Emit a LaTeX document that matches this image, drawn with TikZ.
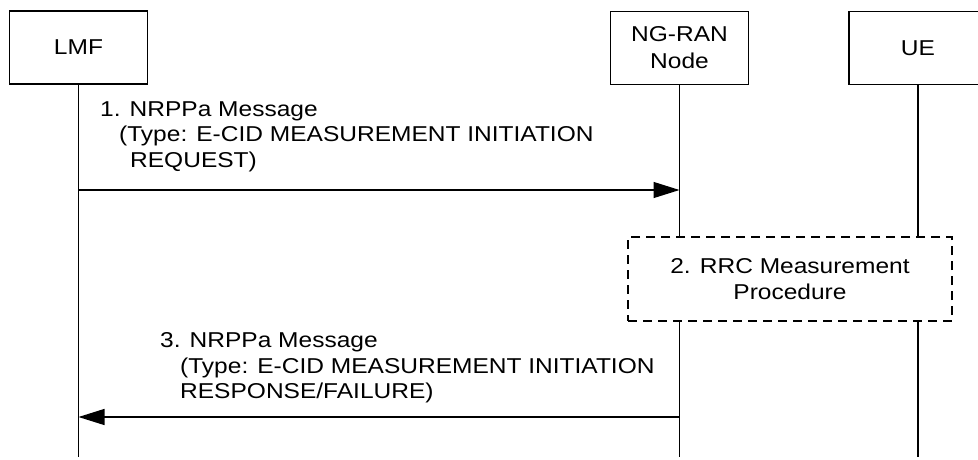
\documentclass[tikz,border=0pt]{standalone}
\usepackage{fontspec}
\setmainfont{Liberation Sans}[FakeStretch=1.14]
\usetikzlibrary{arrows.meta}
\begin{document}
\begin{tikzpicture}[x=1pt,y=-1pt,
  font=\fontsize{21.5}{26}\selectfont,
  lane/.style={draw, line width=1.3pt, minimum width=138pt, minimum height=73pt, inner sep=0pt, align=center},
  life/.style={line width=1.3pt},
  msg/.style={line width=1.3pt, -{Triangle[length=26pt,width=16pt]}},
  lbl/.style={anchor=base west, inner sep=0pt},
  proc/.style={draw, dash pattern=on 9pt off 6pt, line width=1.3pt, minimum width=324pt, minimum height=84pt, align=center, inner sep=0pt}
]
\useasboundingbox (0,0) rectangle (978,459);
\fill[white] (0,0) rectangle (978,459);
% lane heads
\node[lane] (lmf) at (78.5,47.5) {LMF};
\node[lane, font=\fontsize{21.5}{27}\selectfont] (ran) at (679.5,48) {NG-RAN\\Node};
\node[lane] (ue) at (918,48) {UE};
% procedure box
\node[proc] (proc) at (790,279) {2. RRC Measurement\\Procedure};
% lifeline ends
\coordinate (lmfend) at (78.5,457);
\coordinate (ranend) at (679.5,457);
\coordinate (ueend) at (918,457);
\coordinate (rantop) at (679.5,237);
\coordinate (ranbot) at (679.5,321);
\coordinate (uetop) at (918,237);
\coordinate (uebot) at (918,321);
\draw[life] (lmf.south) -- (lmfend);
\draw[life] (ran.south) -- (rantop);
\draw[life] (ranbot) -- (ranend);
\draw[life] (ue.south) -- (uetop);
\draw[life] (uebot) -- (ueend);
% message 1
\coordinate (m1s) at (78.5,190);
\coordinate (m1e) at (679.5,190);
\draw[msg] (m1s) -- (m1e);
\node[lbl] (m1a) at (100,116) {1. NRPPa Message};
\node[lbl] (m1b) at (119,141.5) {(Type: E-CID MEASUREMENT INITIATION};
\node[lbl] (m1c) at (130,167) {REQUEST)};
% message 3
\coordinate (m3s) at (679.5,417);
\coordinate (m3e) at (78.5,417);
\draw[msg] (m3s) -- (m3e);
\node[lbl] (m3a) at (160,347) {3. NRPPa Message};
\node[lbl] (m3b) at (180,373) {(Type: E-CID MEASUREMENT INITIATION};
\node[lbl] (m3c) at (180,398) {RESPONSE/FAILURE)};
\end{tikzpicture}
\end{document}
